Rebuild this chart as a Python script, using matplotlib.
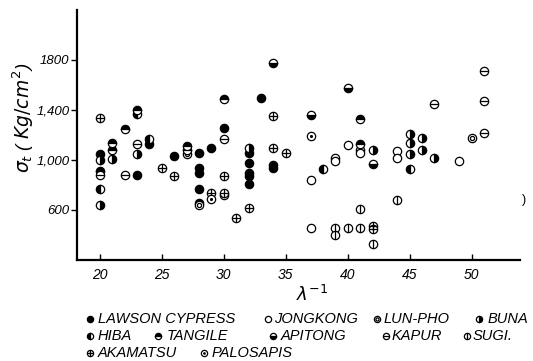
import matplotlib.pyplot as plt

plt.rcParams['font.family'] = ['Liberation Sans', 'DejaVu Sans']

# data: (lambda^-1, sigma_t)
lawson_x = [20, 23, 24, 26, 28, 28, 28, 28, 28, 29, 30, 32, 32, 32, 32, 32, 33, 34, 34]
lawson_y = [1050, 880, 1130, 1030, 1060, 940, 900, 770, 660, 1100, 1260, 1060, 980, 900, 870, 810, 1500, 960, 940]
jong_x = [37, 37, 39, 39, 40, 41, 41, 44, 44, 49]
jong_y = [840, 460, 1020, 990, 1120, 1080, 1060, 1070, 1020, 990]
lunpho_x = [27, 28, 30, 50]
lunpho_y = [1050, 640, 720, 1180]
buna_x = [20, 20, 21, 23, 42, 45, 45, 45, 46, 46, 47, 32]
buna_y = [1000, 640, 1010, 1050, 1080, 1210, 1140, 1050, 1180, 1080, 1020, 1100]
hiba_x = [20, 23, 24, 38, 45]
hiba_y = [770, 1370, 1170, 930, 930]
tangile_x = [20, 21, 21, 22, 23, 27, 27, 30, 41, 41]
tangile_y = [910, 1140, 1080, 1250, 1400, 1110, 1080, 1490, 1330, 1130]
apitong_x = [34, 40, 37, 42]
apitong_y = [1780, 1580, 1360, 970]
kapur_x = [20, 22, 30, 23, 47, 51, 51, 51]
kapur_y = [880, 880, 1170, 1130, 1450, 1710, 1470, 1220]
sugi_x = [39, 39, 40, 41, 41, 42, 44]
sugi_y = [460, 400, 460, 610, 460, 330, 680]
akamatsu_x = [20, 25, 26, 29, 30, 30, 31, 32, 34, 34, 35, 42, 42]
akamatsu_y = [1340, 940, 870, 740, 870, 740, 540, 620, 1350, 1100, 1060, 470, 450]
palo_x = [29, 37]
palo_y = [690, 1190]

xticks = [20, 25, 30, 35, 40, 45, 50]
yticks = [600, 1000, 1400, 1800]
ytick_labels = ["600", "1,000", "1,400", "1800"]

series = [
    ("LAWSON CYPRESS", "fill", lawson_x, lawson_y),
    ("JONGKONG", "open", jong_x, jong_y),
    ("LUN-PHO", "double", lunpho_x, lunpho_y),
    ("BUNA", "right", buna_x, buna_y),
    ("HIBA", "left", hiba_x, hiba_y),
    ("TANGILE", "top", tangile_x, tangile_y),
    ("APITONG", "bottom", apitong_x, apitong_y),
    ("KAPUR", "hline", kapur_x, kapur_y),
    ("SUGI.", "vline", sugi_x, sugi_y),
    ("AKAMATSU", "plus", akamatsu_x, akamatsu_y),
    ("PALOSAPIS", "dot", palo_x, palo_y),
]


def draw(ax, x, y, kind, ms):
    kw = dict(linestyle='none', markeredgecolor='black', markeredgewidth=0.9)
    if kind == "fill":
        ax.plot(x, y, 'o', ms=ms, markerfacecolor='black', **kw)
    elif kind in ("right", "left", "top", "bottom"):
        ax.plot(x, y, 'o', ms=ms, fillstyle=kind, markerfacecolor='black',
                markerfacecoloralt='white', **kw)
    else:
        ax.plot(x, y, 'o', ms=ms, markerfacecolor='white', **kw)
        if kind == "double":
            ax.plot(x, y, 'o', ms=ms * 0.5, markerfacecolor='white', **kw)
        elif kind == "hline":
            ax.plot(x, y, '_', ms=ms, **kw)
        elif kind == "vline":
            ax.plot(x, y, '|', ms=ms, **kw)
        elif kind == "plus":
            ax.plot(x, y, '+', ms=ms, **kw)
        elif kind == "dot":
            ax.plot(x, y, '.', ms=ms * 0.45, markerfacecolor='black', **kw)


fig = plt.figure(figsize=(5.33, 3.61), dpi=100)
ax = fig.add_axes([77 / 533, 1 - 260 / 361, 443 / 533, 250 / 361])

for name, kind, xs, ys in series:
    draw(ax, xs, ys, kind, 6)

ax.set_xlim(18.15, 53.9)
ax.set_ylim(200, 2200)
ax.spines['top'].set_visible(False)
ax.spines['right'].set_visible(False)
ax.spines['left'].set_linewidth(1.6)
ax.spines['bottom'].set_linewidth(1.6)
ax.set_xticks(xticks)
ax.set_xticklabels([str(t) for t in xticks], fontstyle='italic', fontsize=10)
ax.set_yticks(yticks)
ax.set_yticklabels(ytick_labels, fontstyle='italic', fontsize=9.5)
ax.tick_params(axis='x', direction='in', length=4, width=1, pad=6)
ax.tick_params(axis='y', direction='out', length=4, width=1, pad=1.5)

fig.text(23 / 533, 1 - 118 / 361, r"$\sigma_t$ ( $Kg/cm^2$)", rotation=90,
         ha='center', va='center', fontsize=13.5, fontstyle='italic')
fig.text(312 / 533, 1 - 295 / 361, r"$\lambda^{-1}$", ha='center', va='center',
         fontsize=13)
fig.text(524 / 533, 1 - 200 / 361, ")", ha='center', va='center', fontsize=9)

# legend laid out like the original, in pixel coordinates
lax = fig.add_axes([0, 0, 1, 1])
lax.set_xlim(0, 533)
lax.set_ylim(361, 0)
lax.axis('off')
layout = [(90, 98, 319), (268, 274, 319), (377, 384, 319), (479, 488, 319),
          (90, 98, 336), (158, 167, 336), (273, 281, 336), (386, 392, 336), (467, 473, 336),
          (90, 98, 353), (204, 212, 353)]
for (name, kind, xs, ys), (mx, tx, ty) in zip(series, layout):
    draw(lax, [mx], [ty], kind, 4.5)
    lax.text(tx, ty, name, ha='left', va='center', fontsize=10.5, fontstyle='italic')

fig.savefig("out.png", dpi=100)
